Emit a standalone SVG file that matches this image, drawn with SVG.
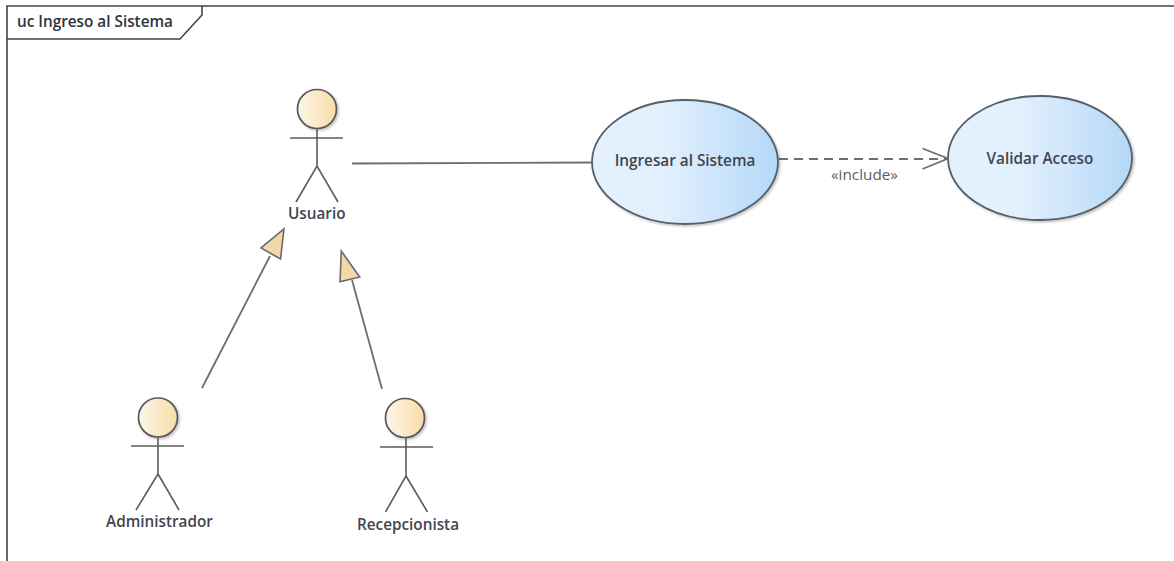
<svg xmlns="http://www.w3.org/2000/svg" width="1174" height="561" viewBox="0 0 1174 561">
<style>
text{font-family:"Open Sans","Liberation Sans",sans-serif;fill:#3f4650;text-anchor:middle}
.b{font-weight:600;font-size:15.3px}
.l{fill:none;stroke:#5c5c5c;stroke-width:1.6}
.c{fill:none;stroke:#6e6e6e;stroke-width:1.8}
.uc{stroke:#55606a;stroke-width:1.8;fill:url(#blue);filter:url(#sh)}
.head{stroke:#55565a;stroke-width:1.7;fill:url(#sand);filter:url(#sh)}
.tri{stroke:#6a6a6a;stroke-width:1.6;fill:#f2d9a8}
</style>
<defs>
<linearGradient id="blue"><stop offset="0" stop-color="#e4f1fd"/><stop offset=".4" stop-color="#e2effd"/><stop offset="1" stop-color="#b4d8f8"/></linearGradient>
<linearGradient id="sand"><stop offset="0" stop-color="#fdf6e9"/><stop offset="1" stop-color="#f8dca8"/></linearGradient>
<filter id="sh" x="-10%" y="-10%" width="125%" height="125%"><feDropShadow dx="1.5" dy="1.5" stdDeviation="1.2" flood-color="#000" flood-opacity=".25"/></filter>
</defs>
<rect width="1174" height="561" fill="#fff"/>
<g id="frame">
<path d="M7 561V6H1174" fill="none" stroke="#444" stroke-width="1.6"/>
<path d="M7 39H180L202 15V6" fill="none" stroke="#444" stroke-width="1.6"/>
<text x="95" y="27" class="b" style="fill:#2f343a">uc Ingreso al Sistema</text>
</g>
<g id="connectors">
<path class="c" d="M352 163.500L592 162.500"/>
<path class="c" d="M779 159H947" stroke-dasharray="9 6"/>
<path class="c" d="M922.500 148.500L948 158.500L922.500 169"/>
<text x="864.500" y="180" style="font-size:15.300px;fill:#5b6068">«include»</text>
<path class="c" d="M202 388L270 256"/>
<polygon class="tri" points="284,229 280.500,259 261,248"/>
<path class="c" d="M382 389L352 280"/>
<polygon class="tri" points="341.300,251 359.700,277 340,281.700"/>
</g>
<g id="usuario">
<circle class="head" cx="317" cy="109" r="19.500"/>
<path class="l" d="M290 138H343M317 129V166M296 202L317 166L338 202"/>
<text x="316.700" y="219" class="b">Usuario</text>
</g>
<g id="administrador">
<circle class="head" cx="158" cy="417.500" r="19.500"/>
<path class="l" d="M131 446H184M158 437V474L136 510M158 474L179 510"/>
<text x="159.500" y="527" class="b">Administrador</text>
</g>
<g id="recepcionista">
<circle class="head" cx="405" cy="418" r="19.500"/>
<path class="l" d="M380 447H433M406 438V476L385.500 512M406 476L427.500 512"/>
<text x="408" y="529.500" class="b">Recepcionista</text>
</g>
<g id="ingresar">
<ellipse class="uc" cx="685" cy="162" rx="93" ry="62"/>
<text x="685" y="166" class="b">Ingresar al Sistema</text>
</g>
<g id="validar">
<ellipse class="uc" cx="1040" cy="158" rx="92" ry="62"/>
<text x="1040" y="163.500" class="b">Validar Acceso</text>
</g>
</svg>
